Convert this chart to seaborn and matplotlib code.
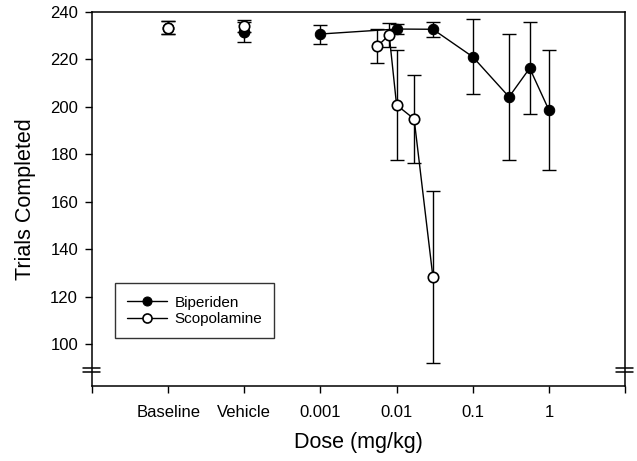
import pandas as pd
import seaborn as sns
import matplotlib.pyplot as plt

# 控制組 (Baseline, Vehicle) 放在對數軸上的虛擬位置
ctrl_pos = [1e-5, 1e-4]
bip_ctrl = [233.3, 231.6]
bip_ctrl_err = [2.6, 4.2]
sco_ctrl = [233.3, 234.0]
sco_ctrl_err = [2.8, 2.5]

# 劑量反應資料 (mean ± SEM)
bip_dose = [0.001, 0.01, 0.03, 0.1, 0.3, 0.56, 1.0]
bip_mean = [230.6, 232.7, 232.6, 221.0, 204.1, 216.2, 198.6]
bip_err = [4.0, 2.0, 3.1, 15.8, 26.7, 19.4, 25.1]

sco_dose = [0.0056, 0.008, 0.01, 0.017, 0.03]
sco_mean = [225.5, 230.2, 200.7, 194.8, 128.2]
sco_err = [7.3, 5.0, 23.0, 18.4, 36.4]

tick_pos = [1e-6, 1e-5, 1e-4, 1e-3, 1e-2, 1e-1, 1, 10]
tick_labels = ['', 'Baseline', 'Vehicle', '0.001', '0.01', '0.1', '1', '']
y_ticks = [100, 120, 140, 160, 180, 200, 220, 240]

bip = pd.DataFrame({'dose': bip_dose, 'trials': bip_mean})
sco = pd.DataFrame({'dose': sco_dose, 'trials': sco_mean})

sns.set_style('ticks')
plt.rcParams['font.family'] = ['Liberation Sans', 'DejaVu Sans']
plt.rcParams['text.color'] = 'black'
plt.rcParams['axes.labelcolor'] = 'black'

fig = plt.figure(figsize=(6.37, 4.61), dpi=100)
ax = fig.add_axes([0.1444, 0.1627, 0.8368, 0.8119])
ax.set_xscale('log')

err_kw = dict(fmt='none', ecolor='black', elinewidth=1.0, capsize=5, capthick=1.0)
mk = 7.5

# Biperiden
ax.errorbar(bip_dose, bip_mean, yerr=bip_err, zorder=2, **err_kw)
ax.errorbar(ctrl_pos, bip_ctrl, yerr=bip_ctrl_err, zorder=2, **err_kw)
sns.lineplot(data=bip, x='dose', y='trials', ax=ax, color='black', lw=1.0,
             marker='o', markersize=mk, markerfacecolor='black',
             markeredgecolor='black', label='Biperiden', zorder=3)
ax.plot(ctrl_pos, bip_ctrl, 'o', ms=mk, color='black', zorder=3)

# Scopolamine
ax.errorbar(sco_dose, sco_mean, yerr=sco_err, zorder=4, **err_kw)
ax.errorbar(ctrl_pos, sco_ctrl, yerr=sco_ctrl_err, zorder=4, **err_kw)
sns.lineplot(data=sco, x='dose', y='trials', ax=ax, color='black', lw=1.0,
             marker='o', markersize=mk, markerfacecolor='white',
             markeredgecolor='black', markeredgewidth=1.2,
             label='Scopolamine', zorder=5)
ax.plot(ctrl_pos, sco_ctrl, 'o', ms=mk, mfc='white', mec='black', mew=1.2, zorder=5)

ax.set_xlim(1e-6, 10)
ax.set_ylim(82.3, 240)
ax.set_xticks(tick_pos)
ax.set_xticklabels(tick_labels)
ax.minorticks_off()
ax.set_yticks(y_ticks)
ax.tick_params(axis='both', direction='out', length=5, width=1.0,
               labelsize=12, colors='black', pad=5)
ax.tick_params(axis='x', pad=9)
for s in ax.spines.values():
    s.set_visible(True)
    s.set_linewidth(1.1)
    s.set_color('black')

ax.set_xlabel('Dose (mg/kg)', fontsize=15.5, labelpad=8)
ax.set_ylabel('Trials Completed', fontsize=15.5, labelpad=10)

# 軸斷裂標記 (左右兩側)
for yb in (90.0, 88.2):
    yf = (yb - 82.3) / (240 - 82.3)
    ax.plot([-0.017, 0.015], [yf, yf], color='black', lw=1.1, clip_on=False,
            transform=ax.transAxes)
    ax.plot([0.983, 1.015], [yf, yf], color='black', lw=1.1, clip_on=False,
            transform=ax.transAxes)

leg = ax.legend(loc='lower left', bbox_to_anchor=(0.043, 0.128), borderaxespad=0,
                fontsize=11, frameon=True, fancybox=False, edgecolor='black',
                handlelength=2.6, handletextpad=0.5, borderpad=0.8, labelspacing=0.15)
leg.get_frame().set_linewidth(1.0)
for h in leg.get_lines():
    h.set_markersize(6.5)

fig.savefig('out.png', dpi=100)
